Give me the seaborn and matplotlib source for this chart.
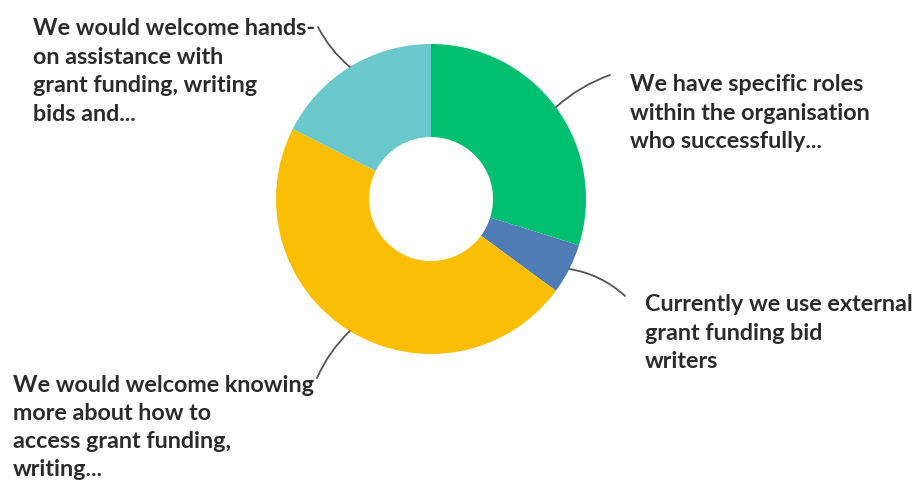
import matplotlib
matplotlib.use("Agg")
import matplotlib.pyplot as plt
import numpy as np
import seaborn as sns

# Survey responses (counts), clockwise from 12 o'clock
answers = [
    "We have specific roles\nwithin the organisation\nwho successfully...",
    "Currently we use external\ngrant funding bid\nwriters",
    "We would welcome knowing\nmore about how to\naccess grant funding,\nwriting...",
    "We would welcome hands-\non assistance with\ngrant funding, writing\nbids and...",
]
counts = [17, 3, 27, 10]
slice_colors = ["#00BF6F", "#507CB6", "#F9BE00", "#6BC8CD"]

sns.set_theme(style="white")
plt.rcParams["font.family"] = ["Lato", "DejaVu Sans"]

W, H = 921, 483
fig = plt.figure(figsize=(W / 100, H / 100), dpi=100)
ax = fig.add_axes([0, 0, 1, 1])

cx, cy, R = 431, H - 199, 155
palette = sns.color_palette(slice_colors)
ax.pie(
    counts,
    colors=palette,
    startangle=90,
    counterclock=False,
    radius=R,
    center=(cx, cy),
    wedgeprops=dict(width=R * 0.6, linewidth=0),
    frame=True,
)
ax.set_xlim(0, W)
ax.set_ylim(0, H)
ax.set_aspect("equal")
ax.axis("off")

# label layout: (leader end x, y), (text x, top y, line spacing) in pixel terms from the top-left
layouts = [
    ((610, 75), (630, 74, 1.45)),
    ((625, 296), (645, 294, 1.45)),
    ((317, 378), (13, 375, 1.42)),
    ((318, 27), (33, 18, 1.45)),
]
rads = [0.1, 0.15, -0.1, 0.1]

total = sum(counts)
start = 90.0
for val, label, (lend, tpos), rad in zip(counts, answers, layouts, rads):
    span = 360.0 * val / total
    mid = np.deg2rad(start - span / 2)
    start -= span
    px, py = cx + R * np.cos(mid), cy + R * np.sin(mid)
    ax.annotate(
        "",
        xy=(px, py),
        xytext=(lend[0], H - lend[1]),
        arrowprops=dict(arrowstyle="-", color="#555555", lw=1.3,
                        connectionstyle=f"arc3,rad={rad}",
                        shrinkA=0, shrinkB=0),
    )
    ax.text(tpos[0], H - tpos[1], label, ha="left", va="top",
            fontsize=16.8, fontweight="bold", color="#2b2b2b",
            linespacing=tpos[2])

fig.savefig("out.png", dpi=100)
